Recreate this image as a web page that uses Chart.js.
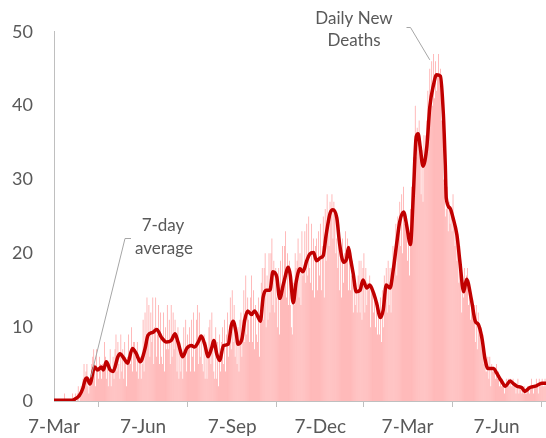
<!DOCTYPE html>
<html><head><meta charset="utf-8">
<script src="https://cdn.jsdelivr.net/npm/chart.js@4.4.0/dist/chart.umd.min.js"></script>
<style>html,body{margin:0;padding:0;background:#fff;}#wrap{width:546px;height:438px;}</style>
</head><body><div id="wrap"><canvas id="c" width="546" height="438"></canvas></div>
<script>
// Daily new deaths, one value per day starting 7-Mar-2020
const dailyDeaths = [
0,0,0,0,0,0,0,
0,0,0,0,1,0,0,
0,0,0,0,0,1,0,
0,1,0,1,2,0,1,
2,1,3,5,2,4,5,
2,1,2,3,5,6,7,
5,2,7,4,3,6,5,
3,5,4,8,6,3,5,
2,5,7,2,4,6,3,
7,9,4,8,5,3,9,
4,7,3,8,6,2,6,
9,6,5,10,4,8,8,
7,4,8,3,6,6,3,
5,11,4,12,7,14,8,
13,6,12,8,14,5,10,
14,6,9,13,5,12,6,
5,12,4,10,7,13,7,
11,5,13,6,12,7,11,
9,4,10,3,8,4,7,
3,10,6,11,4,9,7,
10,4,11,6,12,4,7,
11,13,5,12,6,9,5,
4,9,3,8,3,7,10,
11,5,12,7,4,3,10,
3,8,2,9,4,8,10,
5,11,4,9,12,6,8,
14,7,15,8,13,6,9,
5,10,4,11,12,6,11,
15,8,17,9,14,11,8,
14,17,8,15,7,13,9,
8,14,6,12,16,18,11,
18,20,10,17,11,20,12,
20,22,13,19,12,18,14,
10,18,9,19,14,21,15,
21,23,14,20,13,19,13,
10,9,16,13,20,18,19,
22,14,20,13,23,17,18,
23,16,24,17,25,18,16,
24,15,22,14,21,22,15,
23,17,24,15,21,25,14,
26,19,28,25,21,27,25,
28,22,27,26,20,22,18,
24,15,21,14,22,16,20,
23,19,22,15,21,15,17,
19,12,16,13,15,12,17,
19,12,19,11,18,20,12,
18,13,16,15,17,10,15,
15,12,14,10,13,9,13,
9,14,8,15,10,17,14,
18,12,19,13,18,12,18,
21,18,20,24,17,25,22,
27,21,28,20,29,24,25,
25,19,23,17,26,29,25,
33,30,40,33,37,36,38,
35,28,34,27,36,32,36,
38,42,37,45,39,46,40,
47,41,46,42,44,47,44,
45,38,38,30,29,25,26,
29,23,27,24,26,23,28,
25,21,23,19,22,16,21,
18,12,17,14,18,15,17,
18,13,16,11,14,12,11,
13,8,13,7,12,9,10,
10,7,9,5,6,4,4,
6,3,6,2,5,4,4,
4,3,5,3,4,2,3,
2,3,2,1,2,3,2,
3,2,3,2,2,3,2,
2,1,2,3,1,2,2,
1,2,1,2,1,1,2,
2,1,2,3,2,1,2,
2,3,2,1,3,2,2,
3,2,2,3,2
];
// 7-day average (day index since 7-Mar-2020, value)
const avgDays = [0,19,22,26,30,32,34,37,42,45,49,51,54,58,61,66,68,73,76,81,85,89,94,97,102,106,111,116,121,125,128,133,137,142,145,149,152,156,159,163,165,168,171,175,180,183,185,188,190,194,197,200,204,207,211,213,216,219,223,226,230,233,237,242,244,247,250,254,257,261,264,268,271,275,278,281,285,288,292,295,299,302,304,306,309,312,316,319,323,326,330,333,337,340,343,347,350,354,357,361,364,368,371,374,376,378,381,385,388,392,395,399,402,404,405,409,412,416,419,423,426,431,435,438,442,445,448,454,457,462,466,471,474,478,483,486,491,497,500,504,508];
const avgValues = [0.1,0.1,0.3,0.7,1.8,2.8,3.1,2.3,4.6,4.2,4.6,4.2,5.3,4.2,4.0,6.0,6.4,5.6,5.1,7.1,6.4,5.3,7.1,8.9,9.3,9.7,8.6,8.0,8.2,9.1,8.0,6.0,7.1,7.5,7.3,8.0,8.8,7.5,6.0,7.3,8.2,6.4,5.5,7.5,7.7,10.2,10.8,9.3,7.7,8.4,11.0,12.2,11.7,12.2,11.3,10.8,14.1,15.0,15.0,17.5,16.8,13.9,15.9,18.1,17.0,13.3,16.1,17.9,17.5,19.0,19.9,20.1,19.0,19.4,19.7,22.5,25.4,25.9,24.8,21.2,18.8,19.2,20.8,19.4,17.2,14.8,15.0,16.4,15.3,15.7,14.6,13.3,11.3,12.4,15.7,15.3,17.5,21.5,24.3,25.6,23.9,21.2,27.9,35.8,36.2,34.5,31.8,34.5,39.8,42.9,44.2,44.0,38.9,32.0,27.5,26.1,24.8,22.5,19.0,14.8,16.5,13.7,10.8,10.4,8.4,5.7,4.4,4.4,3.8,2.7,2.0,2.7,2.4,2.0,1.8,1.3,1.8,2.0,2.2,2.4,2.4];
const tickDays = [0,92,184,275,365,457];
const tickLabels = ['7-Mar','7-Jun','7-Sep','7-Dec','7-Mar','7-Jun'];

const barData = dailyDeaths.map((v,i)=>({x:i,y:v}));
const lineData = avgDays.map((d,i)=>({x:d,y:avgValues[i]}));

const annot = {
  id:'annot',
  afterDatasetsDraw(chart){
    const {ctx, scales:{x,y}} = chart;
    ctx.save();
    ctx.strokeStyle='#A6A6A6'; ctx.lineWidth=1;
    ctx.beginPath();
    ctx.moveTo(406.5,27.5); ctx.lineTo(410.5,27.5);
    ctx.lineTo(x.getPixelForValue(388), y.getPixelForValue(46.2));
    ctx.stroke();
    ctx.beginPath();
    ctx.moveTo(131,238.5); ctx.lineTo(125,238.5);
    ctx.lineTo(x.getPixelForValue(38), y.getPixelForValue(3.2));
    ctx.stroke();
    ctx.fillStyle='#595959';
    ctx.font='17px Lato';
    ctx.textAlign='center'; ctx.textBaseline='middle';
    ctx.fillText('Daily New',354,19);
    ctx.fillText('Deaths',354,41);
    ctx.fillText('7-day',163,226);
    ctx.fillText('average',164,249);
    ctx.restore();
  }
};

new Chart(document.getElementById('c'),{
  type:'bar',
  data:{datasets:[
    {type:'line',data:lineData,borderColor:'#C00000',borderWidth:3.5,pointRadius:0,
     cubicInterpolationMode:'monotone',borderCapStyle:'round',borderJoinStyle:'round',order:0,fill:false},
    {type:'bar',data:barData,backgroundColor:'rgb(255,160,160)',barPercentage:0.75,categoryPercentage:1,order:1}
  ]},
  options:{
    responsive:false,animation:false,
    layout:{padding:{top:23,right:0,bottom:0,left:0}},
    plugins:{legend:{display:false},tooltip:{enabled:false}},
    scales:{
      x:{type:'linear',min:0,max:508,offset:false,
        grid:{display:true,drawOnChartArea:false,drawTicks:true,tickLength:6,color:'#BFBFBF'},
        border:{display:true,color:'#BFBFBF'},
        afterBuildTicks:(s)=>{s.ticks=tickDays.map(v=>({value:v}));},
        afterFit:(s)=>{s.height=37;},
        ticks:{autoSkip:false,maxRotation:0,padding:8,color:'#595959',font:{family:'Lato',size:19},
          callback:(v)=>{const i=tickDays.indexOf(v);return i>=0?tickLabels[i]:'';}}
      },
      y:{min:0,max:50,
        grid:{display:false,drawTicks:false},
        border:{display:true,color:'#BFBFBF'},
        afterFit:(s)=>{s.width=54;},
        ticks:{stepSize:10,padding:21,color:'#595959',font:{family:'Lato',size:18}}
      }
    }
  },
  plugins:[annot]
});
</script></body></html>
